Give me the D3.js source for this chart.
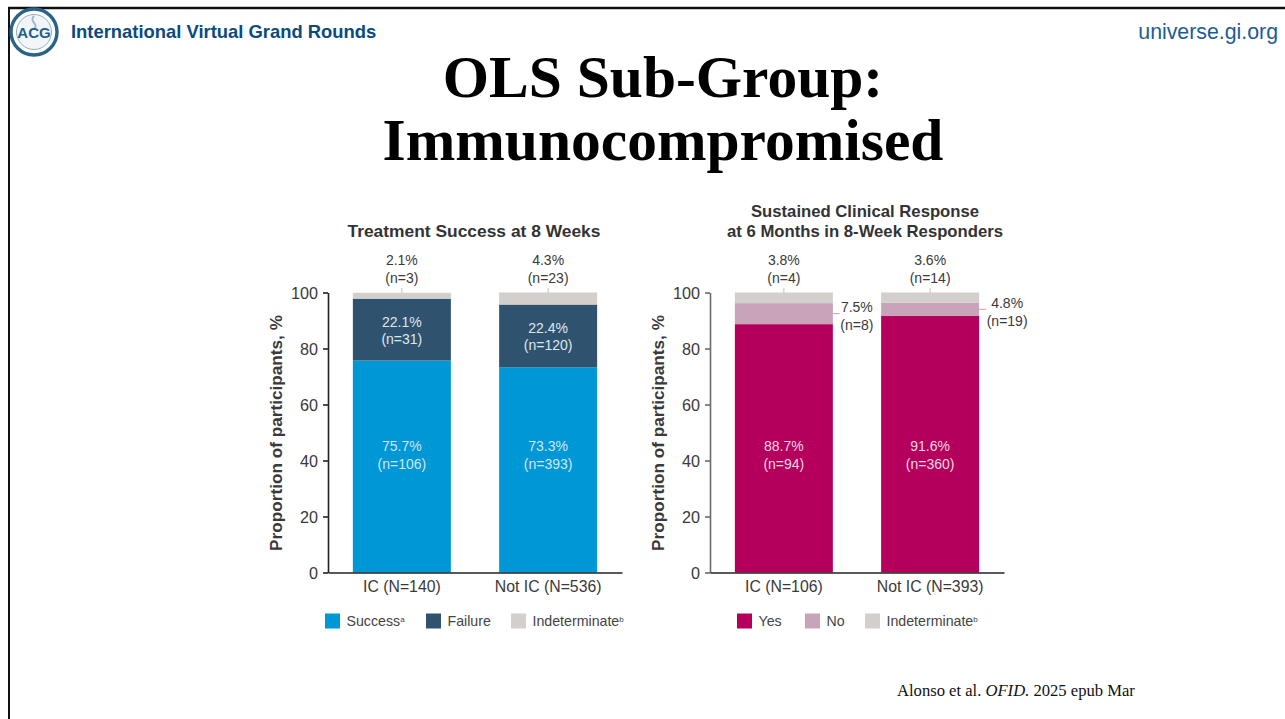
<!DOCTYPE html>
<html>
<head>
<meta charset="utf-8">
<script src="https://cdn.jsdelivr.net/npm/d3@7"></script>
<style>
html, body { margin: 0; padding: 0; background: #fff; overflow: hidden; }
text { font-family: "Liberation Sans", Arial, sans-serif; }
.serif { font-family: "Liberation Serif", serif; }
</style>
</head>
<body>
<svg id="slide" width="1285" height="719"></svg>
<script>
// left chart
var leftCategories = ["IC (N=140)", "Not IC (N=536)"];
var leftKeys = ["Success", "Failure", "Indeterminate"];
var leftPercent = [[75.7, 22.1, 2.1], [73.3, 22.4, 4.3]];
var leftCounts = [[106, 31, 3], [393, 120, 23]];
var leftColors = ["#0097d6", "#2f526f", "#d2cfcc"];

// right chart
var rightCategories = ["IC (N=106)", "Not IC (N=393)"];
var rightKeys = ["Yes", "No", "Indeterminate"];
var rightPercent = [[88.7, 7.5, 3.8], [91.6, 4.8, 3.6]];
var rightCounts = [[94, 8, 4], [360, 19, 14]];
var rightColors = ["#b4005c", "#c9a3b8", "#d2cfcc"];

var yTicks = [0, 20, 40, 60, 80, 100];
var textColor = "#3a3a3a";

var svg = d3.select("#slide");

// slide frame
svg.append("line").attr("x1", 8).attr("x2", 1285).attr("y1", 8).attr("y2", 8).attr("stroke", "#111").attr("stroke-width", 2.4);
svg.append("line").attr("x1", 9).attr("x2", 9).attr("y1", 7).attr("y2", 719).attr("stroke", "#111").attr("stroke-width", 2);

// logo
var logo = svg.append("g").attr("transform", "translate(34,32)");
logo.append("circle").attr("r", 23).attr("fill", "#fff").attr("stroke", "#2a6288").attr("stroke-width", 3.4);
logo.append("circle").attr("r", 17.5).attr("fill", "#f2f6f9").attr("stroke", "#8fb0c6").attr("stroke-width", 1);
logo.append("path").attr("d", "M0,-16 C-6,-10 6,-8 0,-3").attr("fill", "none").attr("stroke", "#9db8ca").attr("stroke-width", 2);
logo.append("text").attr("text-anchor", "middle").attr("y", 6).attr("font-size", 15).attr("font-weight", "bold").attr("fill", "#1f5f88").text("ACG");

// header
svg.append("text").attr("x", 71).attr("y", 38).attr("font-size", 18.4).attr("font-weight", "bold").attr("fill", "#0b4a80").text("International Virtual Grand Rounds");
svg.append("text").attr("x", 1278).attr("y", 39).attr("text-anchor", "end").attr("font-size", 21.3).attr("fill", "#1d5c96").text("universe.gi.org");

// slide title
var title = svg.append("text").attr("class", "serif").attr("text-anchor", "middle").attr("font-size", 59.5).attr("font-weight", "bold").attr("fill", "#000");
title.append("tspan").attr("x", 663).attr("y", 97).text("OLS Sub-Group:");
title.append("tspan").attr("x", 663).attr("y", 160).text("Immunocompromised");

// citation
var cite = svg.append("text").attr("class", "serif").attr("x", 897).attr("y", 696).attr("font-size", 16.6).attr("fill", "#111");
cite.append("tspan").text("Alonso et al. ");
cite.append("tspan").attr("font-style", "italic").text("OFID.");
cite.append("tspan").text(" 2025 epub Mar");

function drawChart(opt) {
	var g = svg.append("g");
	var x = d3.scaleBand().domain(opt.categories).range([opt.x0, opt.x0 + 294]).paddingInner(0.33).paddingOuter(0.17);
	var y = d3.scaleLinear().domain([0, 100]).range([572.5, 292.5]);

	// stack the percentages, one row per category
	var rows = opt.categories.map(function (c, i) {
		var row = { category: c, index: i };
		opt.keys.forEach(function (k, j) { row[k] = opt.percent[i][j]; });
		return row;
	});
	var series = d3.stack().keys(opt.keys)(rows);

	series.forEach(function (s, j) {
		g.selectAll(null).data(s).enter().append("rect")
			.attr("x", function (d) { return x(d.data.category); })
			.attr("width", x.bandwidth())
			.attr("y", function (d) { return y(Math.min(d[1], 100)); })
			.attr("height", function (d) { return y(d[0]) - y(Math.min(d[1], 100)); })
			.attr("fill", opt.colors[j]);
	});

	// axes
	var yAxis = g.append("g").attr("transform", "translate(" + opt.x0 + ",0)")
		.call(d3.axisLeft(y).tickValues(yTicks).tickSize(5).tickSizeOuter(0).tickPadding(5));
	yAxis.selectAll("path,line").attr("stroke", opt.yAxisColor).attr("stroke-width", 1.6);
	yAxis.selectAll("text").attr("font-size", 16.2).attr("dy", "0.38em").attr("fill", textColor).style("font-family", '"Liberation Sans"');

	var xAxis = g.append("g").attr("transform", "translate(0,572.5)")
		.call(d3.axisBottom(x).tickSize(0).tickPadding(8));
	xAxis.select("path").attr("stroke", "#222").attr("stroke-width", 1.6);
	xAxis.selectAll("text").attr("font-size", 15.8).attr("fill", textColor).style("font-family", '"Liberation Sans"');

	g.append("text").attr("transform", "translate(" + (opt.x0 - 46) + ",433) rotate(-90)")
		.attr("text-anchor", "middle").attr("font-size", 17.2).attr("font-weight", "bold").attr("fill", textColor)
		.text("Proportion of participants, %");

	// chart title
	opt.title.forEach(function (t, i) {
		g.append("text").attr("x", opt.titleX).attr("y", opt.titleY + i * 20).attr("text-anchor", "middle")
			.attr("font-size", opt.titleSize).attr("font-weight", "bold").attr("fill", "#333").text(t);
	});

	function twoLines(cx, y1, pct, n, color, size) {
		g.append("text").attr("x", cx).attr("y", y1).attr("text-anchor", "middle").attr("font-size", size).attr("fill", color).text(pct.toFixed(1) + "%");
		g.append("text").attr("x", cx).attr("y", y1 + 17.5).attr("text-anchor", "middle").attr("font-size", size).attr("fill", color).text("(n=" + n + ")");
	}

	rows.forEach(function (row, i) {
		var cx = x(row.category) + x.bandwidth() / 2;
		var pct = opt.percent[i], n = opt.counts[i];
		if (opt.lightMiddle) {
			// bottom and middle segments carry their labels inside the bar
			twoLines(cx, 451, pct[0], n[0], "#cfe6f2", 14);
			var mid = y(pct[0] + pct[1] / 2);
			twoLines(cx, mid - 3, pct[1], n[1], "#dfe7ee", 14);
		} else {
			twoLines(cx, 451, pct[0], n[0], "#f3d5e3", 14);
			// the No segment is labelled beside the bar with a leader
			var right = x(row.category) + x.bandwidth();
			var ly = y(pct[0] + pct[1] / 2);
			g.append("line").attr("x1", right).attr("x2", right + 7).attr("y1", ly).attr("y2", ly).attr("stroke", "#b9a7b1").attr("stroke-width", 1);
			twoLines(right + opt.sideOffset[i], opt.sideY[i], pct[1], n[1], textColor, 14);
		}
		// top label with small leader
		g.append("line").attr("x1", cx).attr("x2", cx).attr("y1", 288).attr("y2", 293).attr("stroke", "#c4c0bc").attr("stroke-width", 1);
		twoLines(cx, 265, pct[2], n[2], textColor, 14);
	});

	// legend
	opt.keys.forEach(function (k, j) {
		g.append("rect").attr("x", opt.legendX[j]).attr("y", 613.5).attr("width", 15).attr("height", 15).attr("fill", opt.colors[j]);
		var t = g.append("text").attr("x", opt.legendX[j] + 21.5).attr("y", 625.5).attr("font-size", 14.2).attr("fill", "#444").text(k);
		if (opt.marks[j]) {
			t.append("tspan").attr("dy", -4).attr("font-size", 8).text(opt.marks[j]);
		}
	});
}

drawChart({
	x0: 328, categories: leftCategories, keys: leftKeys, percent: leftPercent, counts: leftCounts, colors: leftColors,
	title: ["Treatment Success at 8 Weeks"], titleX: 474, titleY: 237, titleSize: 17.4, yAxisColor: "#222", lightMiddle: true,
	legendX: [325, 426, 511], marks: ["a", "", "b"]
});

drawChart({
	x0: 710, categories: rightCategories, keys: rightKeys, percent: rightPercent, counts: rightCounts, colors: rightColors,
	title: ["Sustained Clinical Response", "at 6 Months in 8-Week Responders"], titleX: 865, titleY: 217, titleSize: 16.7, yAxisColor: "#6b6b6b", lightMiddle: false,
	sideOffset: [24, 28], sideY: [312, 308], legendX: [737, 805, 865], marks: ["", "", "b"]
});
</script>
</body>
</html>
